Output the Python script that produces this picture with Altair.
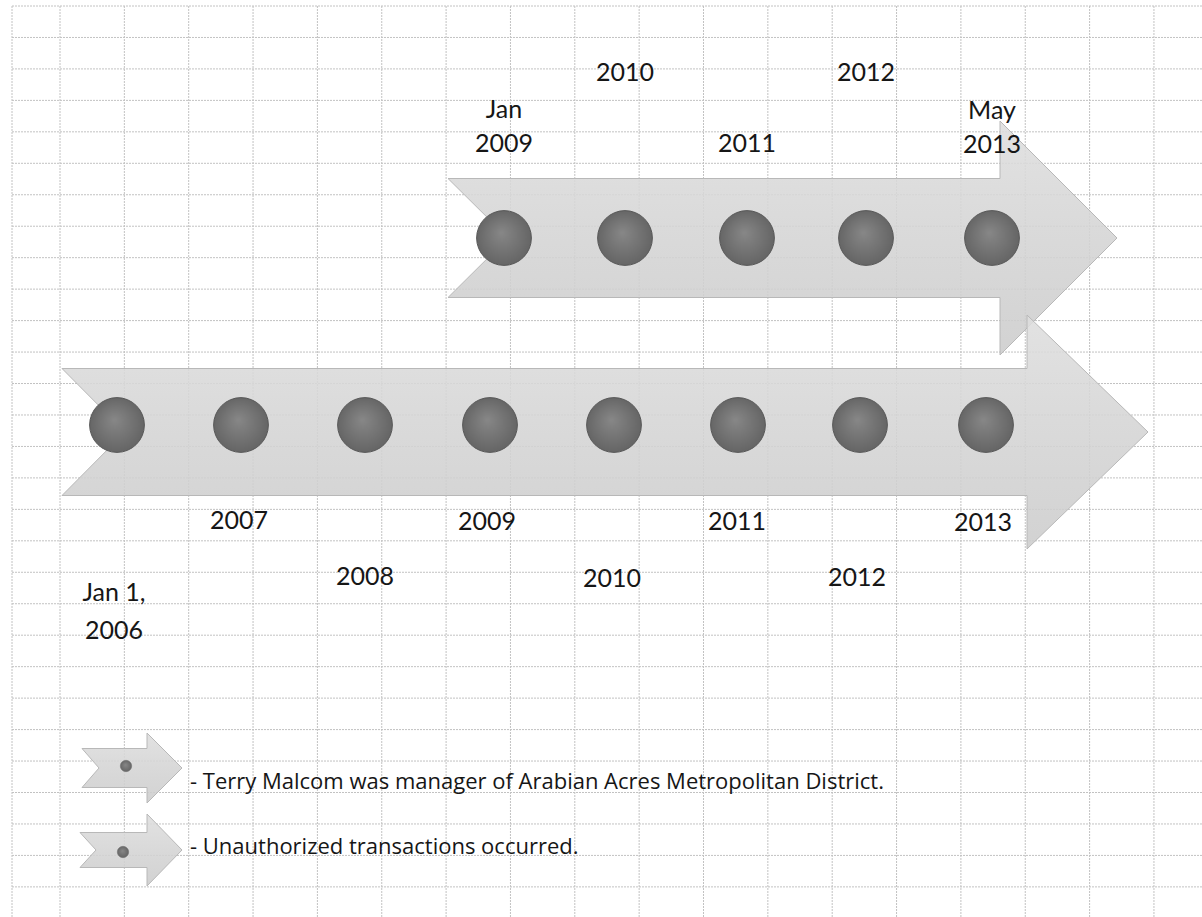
import altair as alt
import pandas as pd
import numpy as np

W, H = 1202, 917

# ---- timeline content ----
top_labels = ["Jan\n2009", "2010", "2011", "2012", "May\n2013"]
top_dot_x = [504, 625, 747, 866, 992]
top_label_y = [110, 73, 144, 73, 111]

bottom_labels = ["Jan 1,\n2006", "2007", "2008", "2009", "2010", "2011", "2012", "2013"]
bottom_dot_x = [117, 241, 365, 490, 614, 738, 860, 986]
bottom_label_x = [114, 239, 365, 487, 612, 737, 857, 983]
bottom_label_y = [593, 521, 577, 522, 579, 522, 578, 523]

legend_texts = [
    "- Terry Malcom was manager of Arabian Acres Metropolitan District.",
    "- Unauthorized transactions occurred.",
]
legend_text_y = [782, 847]

# ---- arrow layouts: name, left, head base, tip, centre y, body half, head half, notch ----
arrow_names = ["top", "bottom", "leg1", "leg2"]
arrow_left = [448, 62, 82, 80]
arrow_head = [1000, 1027, 147, 147]
arrow_tip = [1117, 1148, 182, 182]
arrow_cy = [238, 432, 768, 850]
arrow_body = [59.5, 63.5, 19.5, 17.5]
arrow_headh = [117, 117, 35, 36]
arrow_notch = [60, 63, 17, 16]

legend_dot_x = [126, 123]
legend_dot_y = [766, 852]

# grid
grid_x = [12] + [60 + 64.35 * i for i in range(18)]
grid_y = [6 + 31.46 * i for i in range(29)]

xs = alt.Scale(domain=[0, W], range=[0, W])
ys = alt.Scale(domain=[0, H], range=[0, H])

# polygons
rows = []
for i, n in enumerate(arrow_names):
    L, Hd, T, cy, hb, hh, nt = (arrow_left[i], arrow_head[i], arrow_tip[i], arrow_cy[i],
                                arrow_body[i], arrow_headh[i], arrow_notch[i])
    pts = [(L, cy - hb), (Hd, cy - hb), (Hd, cy - hh), (T, cy), (Hd, cy + hh),
           (Hd, cy + hb), (L, cy + hb), (L + nt, cy)]
    for k, (px, py) in enumerate(pts):
        rows.append({"shape": n, "o": k, "x": px, "y": py})
poly = pd.DataFrame(rows)

arrow_fill = alt.LinearGradient(
    gradient="linear",
    stops=[alt.GradientStop(offset=0, color="#dedede"),
           alt.GradientStop(offset=0.5, color="#d4d4d4"),
           alt.GradientStop(offset=1, color="#cccccc")],
    x1=0, x2=0, y1=0, y2=1,
)

vgrid = alt.Chart(pd.DataFrame({"x": grid_x})).mark_rule(
    stroke="#c2c2c2", strokeWidth=1, strokeDash=[2, 1]
).encode(x=alt.X("x:Q", scale=xs, axis=None), y=alt.value(6), y2=alt.value(H))

hgrid = alt.Chart(pd.DataFrame({"y": grid_y})).mark_rule(
    stroke="#c2c2c2", strokeWidth=1, strokeDash=[2, 1]
).encode(y=alt.Y("y:Q", scale=ys, axis=None), x=alt.value(12), x2=alt.value(W))

arrows = alt.Chart(poly).mark_line(
    interpolate="linear-closed", fill=arrow_fill, fillOpacity=0.88,
    stroke="#b8b8b8", strokeWidth=1
).encode(
    x=alt.X("x:Q", scale=xs, axis=None),
    y=alt.Y("y:Q", scale=ys, axis=None),
    detail="shape:N",
    order="o:Q",
)

dot_fill = alt.RadialGradient(
    gradient="radial",
    stops=[alt.GradientStop(offset=0, color="#878787"),
           alt.GradientStop(offset=1, color="#626262")],
    x1=0.45, y1=0.4, r1=0, x2=0.5, y2=0.5, r2=0.55,
)

dots_df = pd.DataFrame({
    "x": top_dot_x + bottom_dot_x,
    "y": [238] * len(top_dot_x) + [425] * len(bottom_dot_x),
})
dots = alt.Chart(dots_df).mark_point(
    shape="circle", filled=True, size=3000, fill=dot_fill, fillOpacity=1,
    stroke="#585858", strokeWidth=1, opacity=1
).encode(x=alt.X("x:Q", scale=xs, axis=None), y=alt.Y("y:Q", scale=ys, axis=None))

ldots = alt.Chart(pd.DataFrame({"x": legend_dot_x, "y": legend_dot_y})).mark_point(
    shape="circle", filled=True, size=130, fill=dot_fill, fillOpacity=1,
    stroke="#6a6a6a", strokeWidth=0.5, opacity=1
).encode(x=alt.X("x:Q", scale=xs, axis=None), y=alt.Y("y:Q", scale=ys, axis=None))

FONT = "Lato"
top_txt = alt.Chart(pd.DataFrame({"t": top_labels, "x": top_dot_x, "y": top_label_y})).mark_text(
    font=FONT, fontSize=25, color="#161616", lineBreak="\n", lineHeight=34, baseline="middle", align="center"
).encode(x=alt.X("x:Q", scale=xs, axis=None), y=alt.Y("y:Q", scale=ys, axis=None), text="t:N")

bot_txt = alt.Chart(pd.DataFrame({"t": bottom_labels, "x": bottom_label_x, "y": bottom_label_y})).mark_text(
    font=FONT, fontSize=25, color="#161616", lineBreak="\n", lineHeight=38, baseline="middle", align="center"
).encode(x=alt.X("x:Q", scale=xs, axis=None), y=alt.Y("y:Q", scale=ys, axis=None), text="t:N")

leg_txt = alt.Chart(pd.DataFrame({"t": legend_texts, "y": legend_text_y})).mark_text(
    font="Open Sans", fontSize=22, color="#161616", baseline="middle", align="left"
).encode(x=alt.value(190), y=alt.Y("y:Q", scale=ys, axis=None), text="t:N")

chart = alt.layer(vgrid, hgrid, arrows, dots, ldots, top_txt, bot_txt, leg_txt).properties(
    width=W, height=H, padding=0, autosize=alt.AutoSizeParams(type="none"),
    background="white",
).configure_view(strokeWidth=0)

chart.save("out.html", embed_options={"renderer": "svg", "actions": False})
